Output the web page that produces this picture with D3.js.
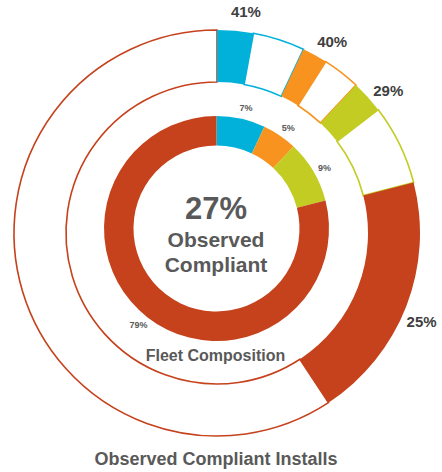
<!DOCTYPE html>
<html>
<head>
<meta charset="utf-8">
<script src="https://cdn.jsdelivr.net/npm/d3@7"></script>
<style>
  html, body { margin: 0; padding: 0; background: #fff; }
  svg { display: block; }
  text { font-family: "Liberation Sans", Arial, sans-serif; font-weight: bold; }
</style>
</head>
<body>
<div id="chart"></div>
<script>
// ---- data ----
const categories = ["Segment A", "Segment B", "Segment C", "Segment D"];
const fleetComposition = [7, 5, 9, 79];          // % of fleet (inner donut)
const observedCompliant = [41, 40, 29, 25];      // % of each segment observed compliant (outer ring)
const colors = ["#02b1da", "#f7931e", "#c3cc23", "#c5421c"];
const centerValue = "27%";
const centerLines = ["Observed", "Compliant"];
const innerTitle = "Fleet Composition";
const chartTitle = "Observed Compliant Installs";

// ---- layout ----
const W = 442, H = 472;
const outerC = { x: 217, y: 233 };
const innerC = { x: 216.5, y: 228.5 };

const svg = d3.select("#chart").append("svg").attr("width", W).attr("height", H);

const angle = d3.scaleLinear().domain([0, 100]).range([0, 2 * Math.PI]);

// cumulative starts
const starts = [];
fleetComposition.reduce((acc, v, i) => { starts[i] = acc; return acc + v; }, 0);

const rows = categories.map((c, i) => ({
  name: c,
  share: fleetComposition[i],
  comp: observedCompliant[i],
  color: colors[i],
  start: starts[i],
  end: starts[i] + fleetComposition[i],
  fillEnd: starts[i] + fleetComposition[i] * observedCompliant[i] / 100
}));

// ---- outer ring ----
const gOuter = svg.append("g").attr("transform", `translate(${outerC.x},${outerC.y})`);
const outerArc = d3.arc().innerRadius(151).outerRadius(203);

gOuter.selectAll("path.rest").data(rows).join("path")
  .attr("class", "rest")
  .attr("d", d => outerArc({ startAngle: angle(d.fillEnd), endAngle: angle(d.end) }))
  .attr("fill", "#fff")
  .attr("stroke", d => d.color)
  .attr("stroke-width", 1.6);

gOuter.selectAll("path.filled").data(rows).join("path")
  .attr("class", "filled")
  .attr("d", d => outerArc({ startAngle: angle(d.start), endAngle: angle(d.fillEnd) }))
  .attr("fill", d => d.color);

gOuter.selectAll("text.olab").data(rows).join("text")
  .attr("class", "olab")
  .attr("x", d => 223 * Math.sin(angle((d.start + d.fillEnd) / 2) + 0.04))
  .attr("y", d => -223 * Math.cos(angle((d.start + d.fillEnd) / 2) + 0.04))
  .attr("dy", "0.36em")
  .attr("text-anchor", "middle")
  .attr("font-size", 15)
  .attr("fill", "#404040")
  .text(d => d.comp + "%");

// ---- inner donut ----
const gInner = svg.append("g").attr("transform", `translate(${innerC.x},${innerC.y})`);
const innerArc = d3.arc().innerRadius(83).outerRadius(112.5);

gInner.selectAll("path.seg").data(rows).join("path")
  .attr("class", "seg")
  .attr("d", d => innerArc({ startAngle: angle(d.start), endAngle: angle(d.end) }))
  .attr("fill", d => d.color);

gInner.selectAll("text.ilab").data(rows).join("text")
  .attr("class", "ilab")
  .attr("x", d => 124 * Math.sin(angle((d.start + d.end) / 2) + 0.02))
  .attr("y", d => -124 * Math.cos(angle((d.start + d.end) / 2) + 0.02))
  .attr("dy", "0.36em")
  .attr("text-anchor", "middle")
  .attr("font-size", 9)
  .attr("fill", "#595959")
  .text(d => d.share + "%");

// ---- center text ----
svg.append("text")
  .attr("x", 216).attr("y", 219)
  .attr("text-anchor", "middle")
  .attr("font-size", 31)
  .attr("fill", "#595959")
  .text(centerValue);

svg.selectAll("text.cl").data(centerLines).join("text")
  .attr("class", "cl")
  .attr("x", 216)
  .attr("y", (d, i) => 247 + i * 25)
  .attr("text-anchor", "middle")
  .attr("font-size", 21)
  .attr("fill", "#595959")
  .text(d => d);

svg.append("text")
  .attr("x", 215.5).attr("y", 361)
  .attr("text-anchor", "middle")
  .attr("font-size", 16)
  .attr("fill", "#595959")
  .text(innerTitle);

svg.append("text")
  .attr("x", 216).attr("y", 465)
  .attr("text-anchor", "middle")
  .attr("font-size", 18)
  .attr("fill", "#595959")
  .text(chartTitle);
</script>
</body>
</html>
